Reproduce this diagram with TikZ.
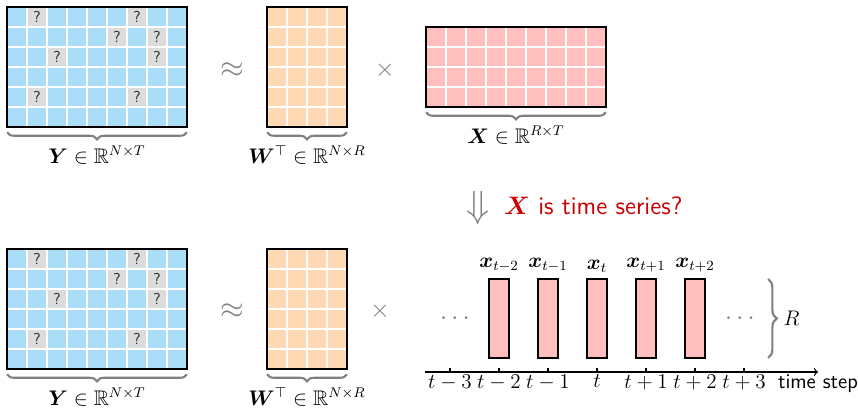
\documentclass[tikz,border=0pt]{standalone}
\usepackage{amsmath,amssymb,bm}
\usetikzlibrary{positioning,calc,decorations.pathreplacing}

\definecolor{ycell}{RGB}{170,221,248}
\definecolor{wcell}{RGB}{255,217,179}
\definecolor{xcell}{RGB}{255,191,191}
\definecolor{misscell}{RGB}{220,220,220}
\definecolor{qred}{RGB}{204,0,0}

\begin{document}
\begin{tikzpicture}[x=0.02cm, y=-0.02cm, font=\large,
 gridl/.style={white, line width=1.1pt},
 matframe/.style={draw=black, line width=1.1pt, inner sep=0pt, outer sep=0pt},
 qmark/.style={font=\sffamily\small, text=black!80},
 brc/.style={decorate, decoration={brace, amplitude=4pt}, draw=gray, line width=1.2pt},
 op/.style={text=gray},
 bar/.style={draw=black, fill=xcell, line width=0.6pt, minimum width=0.4cm, minimum height=1.58cm, inner sep=0pt},
 tlab/.style={inner sep=1.5pt}]

\useasboundingbox (0,0) rectangle (858,408);

% Y with missing entries, both rows
\foreach \ytop/\nm in {7/Ytop, 249/Ybot} {
 \begin{scope}[shift={(7,\ytop)}]
  \fill[ycell] (0,0) rectangle (180,120);
  \foreach \c/\r in {1/0,6/0,5/1,7/1,2/2,7/2,1/4,6/4} {
   \fill[misscell] (20*\c,20*\r) rectangle ++(20,20);
   \node[qmark] at (20*\c+10,20*\r+10) {?};
  }
  \foreach \i in {20,40,...,160} \draw[gridl] (\i,0) -- (\i,120);
  \foreach \j in {20,40,...,100} \draw[gridl] (0,\j) -- (180,\j);
  \node[matframe, minimum width=3.6cm, minimum height=2.4cm] (\nm) at (90,60) {};
 \end{scope}
 \draw[brc] ([yshift=-3pt]\nm.south east) -- ([yshift=-3pt]\nm.south west)
  node[midway, below=4pt] {$\bm{Y}\in\mathbb{R}^{N\times T}$};
}

% W transposed, both rows
\foreach \ytop/\nm in {7/Wtop, 249/Wbot} {
 \begin{scope}[shift={(267,\ytop)}]
  \fill[wcell] (0,0) rectangle (80,120);
  \foreach \i in {20,40,60} \draw[gridl] (\i,0) -- (\i,120);
  \foreach \j in {20,40,...,100} \draw[gridl] (0,\j) -- (80,\j);
  \node[matframe, minimum width=1.6cm, minimum height=2.4cm] (\nm) at (40,60) {};
 \end{scope}
 \draw[brc] ([yshift=-3pt]\nm.south east) -- ([yshift=-3pt]\nm.south west)
  node[midway, below=4pt] {$\bm{W}^{\top}\in\mathbb{R}^{N\times R}$};
}

% X
\begin{scope}[shift={(426,27)}]
 \fill[xcell] (0,0) rectangle (180,80);
 \foreach \i in {20,40,...,160} \draw[gridl] (\i,0) -- (\i,80);
 \foreach \j in {20,40,60} \draw[gridl] (0,\j) -- (180,\j);
 \node[matframe, minimum width=3.6cm, minimum height=1.6cm] (X) at (90,40) {};
\end{scope}
\draw[brc] ([yshift=-3pt]X.south east) -- ([yshift=-3pt]X.south west)
 node[midway, below=4pt] {$\bm{X}\in\mathbb{R}^{R\times T}$};

% operators
\node[op, font=\LARGE] (ap1) at (232,70) {$\approx$};
\node[op, font=\Large] (ti1) at (385,70) {$\times$};
\node[op, font=\LARGE] (ap2) at (232,311) {$\approx$};
\node[op, font=\Large] (ti2) at (380,311) {$\times$};

\node[op, scale=1.8] (dn) at (478,208) {$\Downarrow$};
\node[text=qred, anchor=west, font=\Large] (ask) at (498,206) {$\bm{X}$ \sffamily is time series?};

% time series columns
\foreach \k/\lab in {0/t-2,1/t-1,2/t,3/t+1,4/t+2} {
 \node[bar] (b\k) at (499+49*\k,318.5) {};
 \node[above=0pt of b\k] {$\bm{x}_{\lab}$};
}
\node[op, font=\Large] (dl) at (457,319) {$\cdots$};
\node[op, font=\Large] (dr) at (742,319) {$\cdots$};

\coordinate (rbT) at (768,279);
\coordinate (rbB) at (768,358);
\draw[brc, decoration={amplitude=5pt}] (rbT) -- (rbB) node[midway, right=5pt] {$R$};

% time axis
\coordinate (axL) at (425,372);
\coordinate (axR) at (818,372);
\draw[->, line width=0.7pt] (axL) -- (axR);
\foreach \k/\lab in {0/t-3,1/t-2,2/t-1,3/t,4/t+1,5/t+2,6/t+3} {
 \coordinate (tk\k) at (450+49*\k,372);
 \draw[line width=0.7pt] (tk\k) -- ++(0,-4);
 \node[tlab, below] at (tk\k) {$\lab$};
}
\node[tlab, below] at (axR) {\sffamily time step};
\end{tikzpicture}
\end{document}
